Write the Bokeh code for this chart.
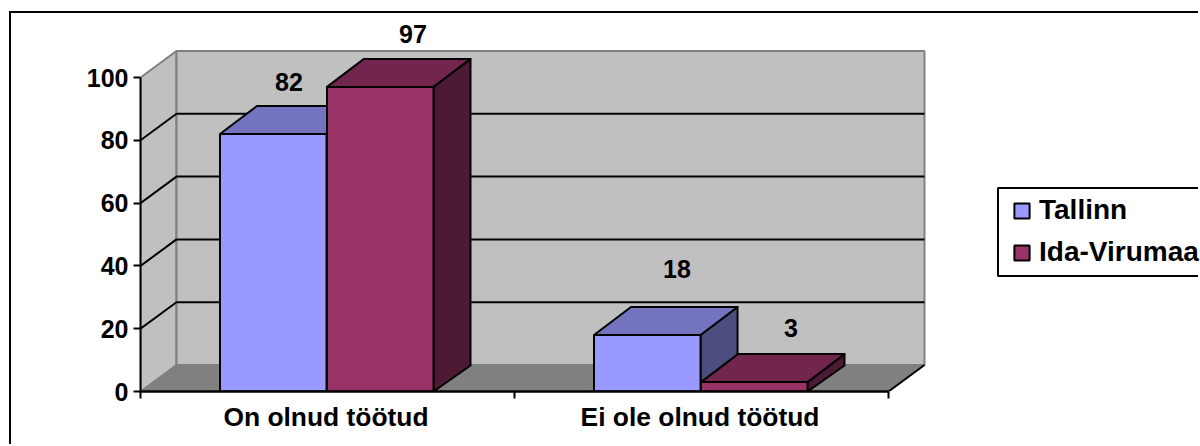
from bokeh.plotting import figure
from bokeh.embed import file_html
from bokeh.resources import INLINE
from bokeh.core.properties import value
from bokeh.models import ColumnDataSource, FixedTicker, Legend, LegendItem, BoxAnnotation

# ---- data ----
categories = ["On olnud töötud", "Ei ole olnud töötud"]
tallinn = [82, 18]
ida_virumaa = [97, 3]
y_ticks = [0, 20, 40, 60, 80, 100]
grid_values = [20, 40, 60, 80]

# ---- layout constants ----
OX, OY = 11, 13                         # canvas origin on the page (after CSS margin + border)
W, H = 1200 - OX, 446 - OY
FL, FR, FT, FB = 140 - OX, W, 0, 391 - OY   # frame edges in canvas px
PXX = 374.0                             # px per category
PXY = 3.14                              # px per value unit
DX = 36 / PXX
DY = 26.5 / PXY
BDX = 37 / PXX
BDY_TOP = 28 / PXY
BDY_BOT = 26 / PXY
BAR_W = 0.2848
BAR_OFF = 0.143
BAR_SHIFT = -0.002
LABEL_SHIFT = -1.5 / PXX
FONT = "Liberation Sans"

WALL, FLOOR, EDGE = "#C0C0C0", "#808080", "#808080"
C1 = dict(front="#9999FF", top="#7373BF", side="#4D4D80")
C2 = dict(front="#993366", top="#73264D", side="#4D1A33")

p = figure(width=W, height=H, output_backend="svg", toolbar_location=None,
           x_range=(0, (FR - FL) / PXX), y_range=(0, (FB - FT) / PXY),
           min_border_left=FL, min_border_right=0,
           min_border_top=FT, min_border_bottom=H - FB)
p.styles = {"margin-left": "9px", "margin-top": "11px",
            "border-left": "2px solid black", "border-top": "2px solid black"}
p.background_fill_color = None
p.border_fill_color = "white"
p.outline_line_color = None
p.xgrid.visible = False
p.ygrid.visible = False

n = len(categories)
v_max = y_ticks[-1]

# walls and floor
p.patch([0, DX, DX, 0], [0, DY, v_max + DY, v_max], fill_color=WALL, line_color=EDGE, line_width=2)
p.patch([DX, n + DX, n + DX, DX], [DY, DY, v_max + DY, v_max + DY], fill_color=WALL, line_color=EDGE, line_width=2)
p.patch([0, n, n + DX, DX], [0, 0, DY, DY], fill_color=FLOOR, line_color=EDGE, line_width=1)
p.line([n, n + DX], [0, DY], line_color="black", line_width=2)

# gridlines along side wall and back wall
p.multi_line([[0, DX, n + DX] for _ in grid_values],
             [[g, g + DY, g + DY] for g in grid_values],
             line_color="black", line_width=2)


def bars(vals, sign, col):
    xc = [i + 0.5 + BAR_SHIFT + sign * BAR_OFF for i in range(n)]
    lft = [x - BAR_W / 2 for x in xc]
    rgt = [x + BAR_W / 2 for x in xc]
    p.patches([[r, r + BDX, r + BDX, r] for r in rgt],
              [[0, BDY_BOT, v + BDY_TOP, v] for v in vals],
              fill_color=col["side"], line_color="black", line_width=2, line_join="round")
    p.patches([[l, l + BDX, r + BDX, r] for l, r in zip(lft, rgt)],
              [[v, v + BDY_TOP, v + BDY_TOP, v] for v in vals],
              fill_color=col["top"], line_color="black", line_width=2, line_join="round")
    return p.vbar(x=xc, top=vals, bottom=0, width=BAR_W,
                  fill_color=col["front"], line_color="black", line_width=2)


r1 = bars(tallinn, -1, C1)
r2 = bars(ida_virumaa, 1, C2)

# axes
ax = p.xaxis[0]
label_ticks = [i + 0.5 + LABEL_SHIFT for i in range(n)]
ax.ticker = FixedTicker(ticks=label_ticks, minor_ticks=list(range(n + 1)))
ax.major_label_overrides = {t: c for t, c in zip(label_ticks, categories)}
ax.bounds = (0, n)
ax.major_tick_line_color = None
ax.minor_tick_in, ax.minor_tick_out = 0, 7
ax.minor_tick_line_color = "black"
ax.minor_tick_line_width = 2
ax.axis_line_color = "black"
ax.axis_line_width = 2.5
ax.major_label_text_font = FONT
ax.major_label_text_font_style = "bold"
ax.major_label_text_font_size = "26.4px"
ax.major_label_text_color = "black"
ax.major_label_standoff = 3

ay = p.yaxis[0]
ay.ticker = FixedTicker(ticks=y_ticks, minor_ticks=[])
ay.bounds = (0, v_max)
ay.major_tick_in, ay.major_tick_out = 0, 7
ay.major_tick_line_color = "black"
ay.major_tick_line_width = 2
ay.axis_line_color = "black"
ay.axis_line_width = 2
ay.major_label_text_font = FONT
ay.major_label_text_font_style = "bold"
ay.major_label_text_font_size = "25px"
ay.major_label_text_color = "black"
ay.major_label_standoff = 5

# value labels, placed as in the reference relative to each bar
lab_val = [tallinn[0], ida_virumaa[0], tallinn[1], ida_virumaa[1]]
lab_x = [0.5 - BAR_OFF, 0.5 + BAR_OFF, 1.5 - BAR_OFF, 1.5 + BAR_OFF]
lab_dx = [15, 32, 29, 36]
lab_dy = [-52, -53, -66, -54]
src = ColumnDataSource(dict(x=lab_x, y=lab_val, t=[str(v) for v in lab_val], dx=lab_dx, dy=lab_dy))
p.text(x="x", y="y", text="t", x_offset="dx", y_offset="dy", source=src,
       text_font=value(FONT), text_font_style="bold", text_font_size="25px",
       text_color="black", text_align="center", text_baseline="middle")

# legend frame (its right side falls outside the page)
p.add_layout(BoxAnnotation(left=995.5 - OX, right=W + 40, top=185.5 - OY, bottom=273.5 - OY,
                           left_units="canvas", right_units="canvas",
                           top_units="canvas", bottom_units="canvas",
                           fill_color="white", fill_alpha=1, line_color="black",
                           line_alpha=1, line_width=2, level="annotation"))

# legend
leg = Legend(items=[LegendItem(label="Tallinn", renderers=[r1]),
                    LegendItem(label="Ida-Virumaa", renderers=[r2])],
             location=(872, 123), orientation="vertical")
leg.border_line_color = None
leg.background_fill_color = None
leg.label_text_font = FONT
leg.label_text_font_style = "bold"
leg.label_text_font_size = "28px"
leg.label_text_color = "black"
leg.glyph_width = 19
leg.glyph_height = 19
leg.label_standoff = 8
leg.padding = 0
leg.spacing = 10
leg.margin = 0
p.add_layout(leg, "center")

open("out.html", "w").write(file_html(p, INLINE))
